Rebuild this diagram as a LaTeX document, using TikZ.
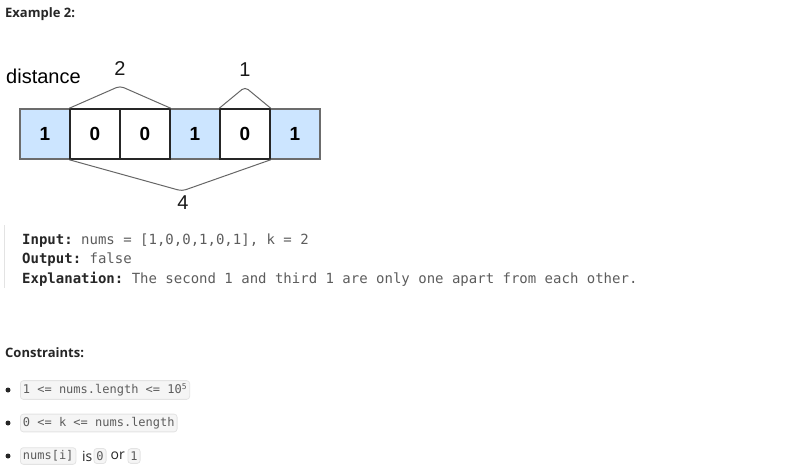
\documentclass[tikz,border=0pt]{standalone}
\usepackage{fontspec}
\setmainfont{Open Sans}
\newfontfamily\arialf{Liberation Sans}
\setmonofont{DejaVu Sans Mono}
\definecolor{cellblue}{HTML}{CCE5FF}
\definecolor{cellgray}{HTML}{6C6C6C}
\definecolor{brk}{HTML}{666666}
\definecolor{lbl}{HTML}{262626}
\definecolor{val}{HTML}{5C5C5C}
\definecolor{cfill}{HTML}{F5F5F5}
\definecolor{cline}{HTML}{E3E3E3}
\tikzset{
  onecell/.style={draw=cellgray,fill=cellblue,line width=1.5pt,minimum width=50pt,minimum height=50pt,inner sep=0pt,font=\arialf\fontsize{19}{21}\selectfont\bfseries},
  zerocell/.style={draw=black!85,fill=white,line width=1.5pt,minimum width=50pt,minimum height=50pt,inner sep=0pt,font=\arialf\fontsize{19}{21}\selectfont\bfseries},
  brace/.style={draw=brk,line width=1pt,rounded corners=4pt},
  numlbl/.style={font=\arialf\fontsize{20}{22}\selectfont,text=black!90,inner sep=0pt},
  codeline/.style={anchor=base west,inner sep=0pt,font=\ttfamily\fontsize{14}{16}\selectfont,text=val},
  codebox/.style={draw=cline,fill=cfill,rounded corners=3pt,line width=0.8pt,inner xsep=2.5pt,inner ysep=3pt,anchor=west,font=\ttfamily\fontsize{12}{14}\selectfont,text=val},
  plain/.style={anchor=west,inner sep=0pt,font=\fontsize{14}{16}\selectfont,text=lbl},
  bulletdot/.style={circle,fill=lbl,inner sep=0pt,minimum size=5pt}
}
\begin{document}
\begin{tikzpicture}[x=1pt,y=-1pt]
\useasboundingbox (0,0) rectangle (791,472);
% title
\node[anchor=west,inner sep=0pt,font=\fontsize{13}{15}\selectfont\bfseries,text=lbl] (title) at (5,14) {Example 2:};
% cells
\node[onecell] (c0) at (45,134) {1};
\node[onecell] (c3) at (195,134) {1};
\node[onecell] (c5) at (295,134) {1};
\node[zerocell] (c1) at (95,134) {0};
\node[zerocell] (c2) at (145,134) {0};
\node[zerocell] (c4) at (245,134) {0};
% distance label
\node[anchor=west,inner sep=0pt,font=\arialf\fontsize{20}{22}\selectfont] (dist) at (6,76) {distance};
% brackets
\coordinate (p2) at (120,86);
\coordinate (p1) at (245,87);
\coordinate (p4) at (182,191);
\draw[brace] (c1.north west) -- (p2) -- (c2.north east);
\draw[brace] (c4.north west) -- (p1) -- (c4.north east);
\draw[brace] (c1.south west) -- (p4) -- (c4.south east);
\node[numlbl] (l2) at (120,69) {2};
\node[numlbl] (l1) at (245,70) {1};
\node[numlbl] (l4) at (183,203) {4};
% code block
\coordinate (bt) at (4.5,225);
\coordinate (bb) at (4.5,288);
\draw[cline,line width=1.5pt] (bt) -- (bb);
\node[codeline] (in) at (22,244) {\textbf{\textcolor{lbl}{Input:}} nums = [1,0,0,1,0,1], k = 2};
\node[codeline] (out) at (22,263) {\textbf{\textcolor{lbl}{Output:}} false};
\node[codeline] (ex) at (22,283) {\textbf{\textcolor{lbl}{Explanation:}} The second 1 and third 1 are only one apart from each other.};
% constraints
\node[anchor=west,inner sep=0pt,font=\fontsize{13}{15}\selectfont\bfseries,text=lbl] (cons) at (5,353) {Constraints:};
\node[bulletdot] (b1) at (8,390) {};
\node[bulletdot] (b2) at (8,423) {};
\node[bulletdot] (b3) at (8,456) {};
\node[codebox] (k1) at (20,390) {1 <= nums.length <= 10\textsuperscript{5}};
\node[codebox] (k2) at (20,423) {0 <= k <= nums.length};
\node[codebox] (k3) at (20,456) {nums[i]};
\node[plain] (is) at (82,456) {is};
\node[codebox] (k4) at (93.5,456) {0};
\node[plain] (or) at (110.5,456) {or};
\node[codebox] (k5) at (127.5,456) {1};
\end{tikzpicture}
\end{document}
